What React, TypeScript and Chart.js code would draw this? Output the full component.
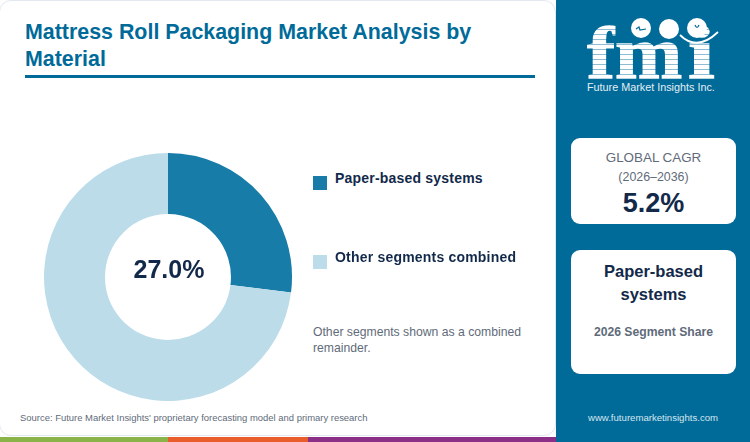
import React, { useEffect, useRef } from 'react';
import Chart from 'chart.js/auto';

const categories = ['Paper-based systems', 'Other segments combined'];
const shares = [27.0, 73.0];
const sliceColors = ['#177ca8', '#bcdcea'];
const BLUE = '#006a99';
const NAVY = '#12294a';
const GREY = '#5f6b7a';
const FONT = '"Liberation Sans", Arial, sans-serif';

const abs = (left: number, top: number, extra: React.CSSProperties = {}): React.CSSProperties => ({
  position: 'absolute',
  left,
  top,
  ...extra,
});

const logoLetters: [string, number, number][] = [
  ['f', 32, 1.14],
  ['m', 60, 1.09],
  ['i', 133, 1.3],
];

const Logo = () => (
  <div style={abs(555, 0, { width: 195, height: 130 })}>
    {logoLetters.map(([letter, left, stretch]) => (
      <div
        key={letter}
        style={abs(left, 25, {
          fontFamily: '"Liberation Serif", serif',
          fontWeight: 700,
          fontSize: 74,
          lineHeight: '56px',
          color: 'transparent',
          WebkitTextStroke: '1.4px transparent',
          backgroundImage: 'repeating-linear-gradient(#ffffff 0 3.6px, #8fbcd2 3.6px 5px)',
          backgroundClip: 'text',
          WebkitBackgroundClip: 'text',
          transform: `scaleX(${stretch})`,
          transformOrigin: 'left top',
        })}
      >
        {letter}
      </div>
    ))}
    <svg width={195} height={60} style={abs(0, 0)}>
      <circle cx={86} cy={28} r={10} fill="#fff" />
      <circle cx={114} cy={29} r={10} fill="#fff" />
      <circle cx={142} cy={28} r={10} fill="#fff" />
      <path d="M 125 35 Q 142 52 163 32" fill="none" stroke="#fff" strokeWidth={1.8} />
      <path d="M 81 29 L 84 27 L 85 30 L 91 29" fill="none" stroke={BLUE} strokeWidth={1.2} />
      <path d="M 140 25 Q 142 30 144 25" fill="none" stroke={BLUE} strokeWidth={1.2} />
    </svg>
    <div style={abs(32, 81, { fontFamily: FONT, fontSize: 10.8, lineHeight: '12px', color: '#e4eff5', whiteSpace: 'nowrap' })}>
      Future Market Insights Inc.
    </div>
  </div>
);

const App = () => {
  const canvasRef = useRef<HTMLCanvasElement>(null);

  useEffect(() => {
    document.body.style.margin = '0';
    if (!canvasRef.current) return;
    const chart = new Chart(canvasRef.current, {
      type: 'doughnut',
      data: {
        labels: categories,
        datasets: [{ data: shares, backgroundColor: sliceColors, borderWidth: 0 }],
      },
      options: {
        animation: false,
        responsive: false,
        radius: 124,
        cutout: 65,
        layout: { padding: 0 },
        plugins: { legend: { display: false }, tooltip: { enabled: false } },
      },
    });
    return () => chart.destroy();
  }, []);

  return (
    <div style={{ position: 'relative', width: 750, height: 442, overflow: 'hidden', background: '#fff', fontFamily: FONT }}>
      <div
        style={abs(-1, 0, {
          width: 557,
          height: 436,
          boxSizing: 'border-box',
          border: '1px solid #e2e8f0',
          borderRadius: 12,
        })}
      />
      <div style={abs(25, 19, { width: 500, fontSize: 21.4, lineHeight: '27px', fontWeight: 700, color: BLUE })}>
        Mattress Roll Packaging Market Analysis by Material
      </div>
      <div style={abs(25, 75, { width: 510, height: 3, background: BLUE })} />

      <canvas ref={canvasRef} width={256} height={256} style={abs(40, 149, { width: 256, height: 256 })} />
      <div style={abs(109, 252, { width: 120, textAlign: 'center', fontSize: 25, lineHeight: '34px', fontWeight: 700, color: NAVY })}>
        {shares[0].toFixed(1)}%
      </div>

      <div style={abs(313, 176, { width: 14, height: 14, background: sliceColors[0] })} />
      <div style={abs(335, 169, { fontSize: 14, letterSpacing: 0.2, lineHeight: '18px', fontWeight: 700, color: NAVY, whiteSpace: 'nowrap' })}>
        {categories[0]}
      </div>
      <div style={abs(313, 255, { width: 14, height: 14, background: sliceColors[1] })} />
      <div style={abs(335, 248, { fontSize: 14, letterSpacing: 0.2, lineHeight: '18px', fontWeight: 700, color: NAVY, whiteSpace: 'nowrap' })}>
        {categories[1]}
      </div>
      <div style={abs(313, 324, { width: 225, fontSize: 12.2, lineHeight: '16px', color: GREY })}>
        Other segments shown as a combined remainder.
      </div>

      <div style={abs(20, 412, { fontSize: 9.45, lineHeight: '12px', color: GREY, whiteSpace: 'nowrap' })}>
        Source: Future Market Insights' proprietary forecasting model and primary research
      </div>

      <div style={abs(0, 437, { width: 168, height: 5, background: '#8ab44a' })} />
      <div style={abs(168, 437, { width: 140, height: 5, background: '#e95d2c' })} />
      <div style={abs(308, 437, { width: 249, height: 5, background: '#8b2f87' })} />

      <div style={abs(556, 0, { width: 194, height: 442, background: BLUE })} />
      <Logo />

      <div style={abs(571, 138, { width: 165, height: 86, borderRadius: 9, background: '#fff', textAlign: 'center' })}>
        <div style={abs(0, 12, { width: 165, fontSize: 13.4, lineHeight: '16px', color: GREY })}>GLOBAL CAGR</div>
        <div style={abs(0, 32, { width: 165, fontSize: 12.4, lineHeight: '14px', color: GREY })}>(2026–2036)</div>
        <div style={abs(0, 48, { width: 165, fontSize: 27, lineHeight: '34px', fontWeight: 700, color: NAVY })}>5.2%</div>
      </div>

      <div style={abs(571, 250, { width: 165, height: 124, borderRadius: 9, background: '#fff', textAlign: 'center' })}>
        <div style={abs(0, 10, { width: 165, fontSize: 16.5, lineHeight: '23px', fontWeight: 700, color: NAVY })}>
          Paper-based
          <br />
          systems
        </div>
        <div style={abs(0, 74, { width: 165, fontSize: 12.2, lineHeight: '16px', fontWeight: 700, color: GREY })}>
          2026 Segment Share
        </div>
      </div>

      <div style={abs(556, 412, { width: 194, textAlign: 'center', fontSize: 9.6, lineHeight: '12px', color: '#d5e7f0' })}>
        www.futuremarketinsights.com
      </div>
    </div>
  );
};

export default App;
